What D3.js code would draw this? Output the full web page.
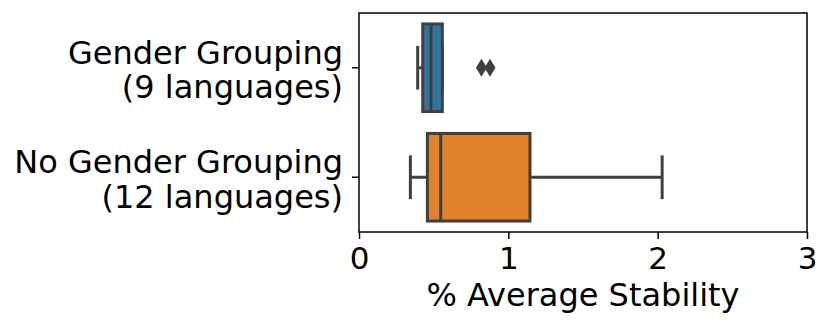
<!DOCTYPE html>
<html>
<head>
<meta charset="utf-8">
<script src="https://cdn.jsdelivr.net/npm/d3@7"></script>
<style>
body { margin: 0; background: #fff; }
text { font-family: "DejaVu Sans", sans-serif; }
</style>
</head>
<body>
<script>
// box summaries
const groups = [['Gender Grouping', '(9 languages)'], ['No Gender Grouping', '(12 languages)']];
const q1 = [0.427, 0.458];
const medians = [0.482, 0.547];
const q3 = [0.558, 1.145];
const whiskLo = [0.393, 0.344];
const whiskHi = [0.558, 2.03];
const outliers = [[0.82, 0.877], []];
const colors = ['#3274a1', '#e1812c'];
const xTicks = [0, 1, 2, 3];

const W = 831, H = 331;
const m = {left: 359, right: 807, top: 13, bottom: 232};

const svg = d3.select('body').append('svg')
              .attr('width', W)
              .attr('height', H);

const x = d3.scaleLinear().domain([0, 3]).range([m.left, m.right]);
const y = d3.scaleBand().domain(d3.range(groups.length)).range([m.top, m.bottom]).paddingInner(0.2).paddingOuter(0.1);
const edge = '#3f3f3f';
const lw = 3;

const boxes = svg.append('g');
groups.forEach((g, i) => {
  const cy = y(i) + y.bandwidth() / 2;
  const half = y.bandwidth() / 2;
  // whiskers
  boxes.append('line').attr('x1', x(whiskLo[i])).attr('x2', x(q1[i])).attr('y1', cy).attr('y2', cy)
       .style('stroke', edge).style('stroke-width', lw);
  boxes.append('line').attr('x1', x(q3[i])).attr('x2', x(whiskHi[i])).attr('y1', cy).attr('y2', cy)
       .style('stroke', edge).style('stroke-width', lw);
  [whiskLo[i], whiskHi[i]].forEach(v => {
    boxes.append('line').attr('x1', x(v)).attr('x2', x(v)).attr('y1', cy - half / 2).attr('y2', cy + half / 2)
         .style('stroke', edge).style('stroke-width', lw);
  });
  boxes.append('rect')
       .attr('x', x(q1[i])).attr('y', y(i))
       .attr('width', x(q3[i]) - x(q1[i])).attr('height', y.bandwidth())
       .style('fill', colors[i]).style('stroke', edge).style('stroke-width', lw);
  boxes.append('line').attr('x1', x(medians[i])).attr('x2', x(medians[i])).attr('y1', y(i)).attr('y2', y(i) + y.bandwidth())
       .style('stroke', edge).style('stroke-width', lw);
  outliers[i].forEach(v => {
    boxes.append('path')
         .attr('d', 'M0,-9L5.5,0L0,9L-5.5,0Z')
         .attr('transform', `translate(${x(v)},${cy})`)
         .style('fill', edge);
  });
});

// frame
svg.append('rect').attr('x', m.left).attr('y', m.top)
   .attr('width', m.right - m.left).attr('height', m.bottom - m.top)
   .style('fill', 'none').style('stroke', '#000').style('stroke-width', 1.5);

const xAxis = svg.append('g').attr('transform', `translate(0,${m.bottom})`)
   .call(d3.axisBottom(x).tickValues(xTicks).tickFormat(d3.format('d')).tickSize(7).tickPadding(8));
xAxis.select('.domain').remove();
xAxis.selectAll('line').style('stroke-width', 1.5);
xAxis.selectAll('text').style('font-size', '31px').style('fill', '#000');

const yAxis = svg.append('g').attr('transform', `translate(${m.left},0)`)
   .call(d3.axisLeft(y).tickSize(7).tickFormat(''));
yAxis.select('.domain').remove();
yAxis.selectAll('line').style('stroke-width', 1.5);

groups.forEach((g, i) => {
  const cy = y(i) + y.bandwidth() / 2;
  const t = svg.append('text').attr('x', 343).attr('y', cy - 4)
     .attr('text-anchor', 'end').style('font-size', '32px');
  t.append('tspan').attr('x', 343).attr('dy', 0).text(g[0]);
  t.append('tspan').attr('x', 343).attr('dy', 34.5).text(g[1]);
});

svg.append('text').attr('x', (m.left + m.right) / 2).attr('y', 306)
   .attr('text-anchor', 'middle').style('font-size', '32px').text('% Average Stability');
</script>
</body>
</html>
